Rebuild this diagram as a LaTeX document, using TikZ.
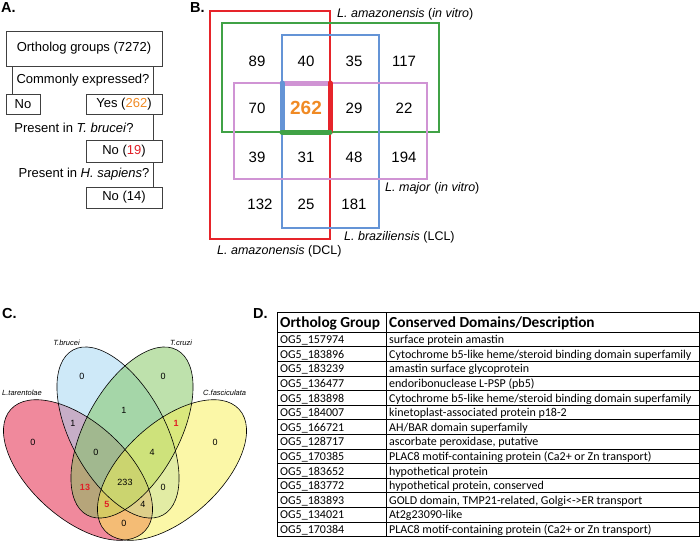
\documentclass[tikz,border=0pt]{standalone}
\usepackage{fontspec}
\setmainfont{Liberation Sans}
\newfontfamily\tablefont{Carlito}
\usetikzlibrary{positioning}
\definecolor{amzred}{RGB}{230,36,42}
\definecolor{vitrogreen}{RGB}{64,162,70}
\definecolor{lclblue}{RGB}{100,148,214}
\definecolor{majorpink}{RGB}{208,148,212}
\definecolor{hitorange}{RGB}{240,138,36}
\definecolor{hitred}{RGB}{225,30,38}
\definecolor{tarred}{RGB}{226,20,58}
\definecolor{brublue}{RGB}{158,211,242}
\definecolor{cruzgreen}{RGB}{125,195,90}
\definecolor{fasyellow}{RGB}{247,240,80}

\begin{document}
\begin{tikzpicture}[x=1pt,y=-1pt,
  panel/.style={anchor=base west,inner sep=0pt,font=\bfseries\fontsize{14.5}{16}\selectfont},
  flowbox/.style={draw=black!75,line width=.7pt,inner sep=0pt,font=\fontsize{13}{15}\selectfont},
  flowtext/.style={inner sep=0pt,font=\fontsize{13}{15}\selectfont},
  cellnum/.style={inner sep=0pt,font=\fontsize{15}{17}\selectfont},
  setlabel/.style={anchor=west,inner sep=0pt,font=\fontsize{12.5}{14}\selectfont},
  vennnum/.style={inner sep=0pt,font=\fontsize{9}{10}\selectfont},
  vennhit/.style={inner sep=0pt,text=hitred,font=\bfseries\fontsize{9}{10}\selectfont},
  vennname/.style={inner sep=0pt,font=\itshape\fontsize{7.5}{9}\selectfont},
  cellhead/.style={anchor=base west,inner sep=0pt,font=\tablefont\bfseries\fontsize{15.3}{17}\selectfont},
  cell/.style={anchor=base west,inner sep=0pt,font=\tablefont\fontsize{12}{14}\selectfont}]
\path[use as bounding box] (0,0) rectangle (700,547);

% A. filter steps
\node[panel] (labA) at (1,12) {A.};
\node[flowbox,minimum width=156pt,minimum height=35pt] (og) at (84,48.5) {Ortholog groups (7272)};
\node[flowbox,minimum width=34pt,minimum height=20pt] (no) at (23,104) {No};
\node[flowbox,minimum width=76pt,minimum height=20pt] (yes) at (124,104) {Yes (\textcolor{hitorange}{262})};
\node[flowbox,minimum width=76pt,minimum height=22pt] (nob) at (124,151) {No (\textcolor{hitred}{19})};
\node[flowbox,minimum width=76pt,minimum height=21pt] (noh) at (124,197.5) {No (14)};
\node[flowtext] (q1) at (83,80) {Commonly expressed?};
\node[flowtext] (q2) at (74,128) {Present in \textit{T. brucei}?};
\node[flowtext] (q3) at (84,174) {Present in \textit{H. sapiens}?};
\draw[black!75,line width=.7pt] ([xshift=7pt]no.north west) -- ([xshift=7pt]og.south west);
\draw[black!75,line width=.7pt] ([xshift=-9pt]yes.north east) -- ([xshift=-9pt]og.south east);
\draw[black!75,line width=.7pt] ([xshift=-9pt]nob.north east) -- ([xshift=-9pt]yes.south east);
\draw[black!75,line width=.7pt] ([xshift=-9pt]noh.north east) -- ([xshift=-9pt]nob.south east);

% B. overlap of the four sets
\node[panel] (labB) at (190,12) {B.};
\draw[amzred,line width=1.8pt] (210,11) rectangle (330,239);
\draw[vitrogreen,line width=1.8pt] (222,23) rectangle (439,132);
\draw[lclblue,line width=1.8pt] (282,35) rectangle (379,228);
\draw[majorpink,line width=1.8pt] (234,83) rectangle (427,179);
\draw[majorpink,line width=5pt,line cap=round] (282,83) -- (330,83);
\draw[amzred,line width=5pt,line cap=round] (330,83) -- (330,132);
\draw[lclblue,line width=5pt,line cap=round] (282,83) -- (282,132);
\draw[vitrogreen,line width=5pt,line cap=round] (282,132) -- (330,132);
\node[cellnum] (n11) at (257,61) {89};
\node[cellnum] (n12) at (306,61) {40};
\node[cellnum] (n13) at (354,61) {35};
\node[cellnum] (n14) at (404,61) {117};
\node[cellnum] (n21) at (257,108) {70};
\node[cellnum,text=hitorange,font=\bfseries\fontsize{19}{21}\selectfont] (n22) at (306,108) {262};
\node[cellnum] (n23) at (354,108) {29};
\node[cellnum] (n24) at (404,108) {22};
\node[cellnum] (n31) at (257,157) {39};
\node[cellnum] (n32) at (306,157) {31};
\node[cellnum] (n33) at (354,157) {48};
\node[cellnum] (n34) at (404,157) {194};
\node[cellnum] (n41) at (260,204) {132};
\node[cellnum] (n42) at (306,204) {25};
\node[cellnum] (n43) at (354,204) {181};
\node[setlabel] (amzvitro) at (337,14) {\textit{L. amazonensis} (\textit{in vitro})};
\node[setlabel] (majvitro) at (385,188) {\textit{L. major} (\textit{in vitro})};
\node[setlabel] (brazlcl) at (344,237) {\textit{L. braziliensis} (LCL)};
\node[setlabel] (amzdcl) at (217,251) {\textit{L. amazonensis} (DCL)};

% C. four-way Venn
\node[panel] (labC) at (2,318) {C.};
\fill[tarred,fill opacity=.5,rotate around={-42:(78,470)}] (78,470) ellipse[x radius=90.5pt,y radius=48pt];
\fill[brublue,fill opacity=.5,rotate around={-61.4:(118,432.5)}] (118,432.5) ellipse[x radius=94pt,y radius=47pt];
\fill[cruzgreen,fill opacity=.5,rotate around={61.4:(132,432.5)}] (132,432.5) ellipse[x radius=94pt,y radius=47pt];
\fill[fasyellow,fill opacity=.5,rotate around={42:(172,470)}] (172,470) ellipse[x radius=90.5pt,y radius=48pt];
\draw[line width=.6pt,rotate around={-42:(78,470)}] (78,470) ellipse[x radius=90.5pt,y radius=48pt];
\draw[line width=.6pt,rotate around={-61.4:(118,432.5)}] (118,432.5) ellipse[x radius=94pt,y radius=47pt];
\draw[line width=.6pt,rotate around={61.4:(132,432.5)}] (132,432.5) ellipse[x radius=94pt,y radius=47pt];
\draw[line width=.6pt,rotate around={42:(172,470)}] (172,470) ellipse[x radius=90.5pt,y radius=48pt];
\node[vennname] (tbr) at (66.5,343) {T.brucei};
\node[vennname] (tcr) at (181,343) {T.cruzi};
\node[vennname] (lta) at (22,393) {L.tarentolae};
\node[vennname,anchor=west] (cfa) at (203,393) {C.fasciculata};
\node[vennnum] (v1) at (33,442) {0};
\node[vennnum] (v2) at (73,423) {1};
\node[vennnum] (v3) at (82,376) {0};
\node[vennnum] (v4) at (124,410) {1};
\node[vennnum] (v5) at (163,376) {0};
\node[vennhit] (v6) at (176,423) {1};
\node[vennnum] (v7) at (215,442) {0};
\node[vennnum] (v8) at (96,452) {0};
\node[vennnum] (v9) at (152,452) {4};
\node[vennhit] (v10) at (85,487) {13};
\node[vennnum] (v11) at (125,482) {233};
\node[vennnum] (v12) at (163,487) {0};
\node[vennhit] (v13) at (107,504) {5};
\node[vennnum] (v14) at (143,504) {4};
\node[vennnum] (v15) at (124,523) {0};

% D. the 14 groups
\node[panel] (labD) at (253,318) {D.};
\draw[line width=.8pt] (277,312) rectangle (699,536.4);
\draw[line width=.8pt] (386,312) -- (386,536.4);
\draw[line width=.6pt] (277,332) -- (699,332);
\draw[line width=.6pt] (277,346.6) -- (699,346.6);
\draw[line width=.6pt] (277,361.2) -- (699,361.2);
\draw[line width=.6pt] (277,375.8) -- (699,375.8);
\draw[line width=.6pt] (277,390.4) -- (699,390.4);
\draw[line width=.6pt] (277,405) -- (699,405);
\draw[line width=.6pt] (277,419.6) -- (699,419.6);
\draw[line width=.6pt] (277,434.2) -- (699,434.2);
\draw[line width=.6pt] (277,448.8) -- (699,448.8);
\draw[line width=.6pt] (277,463.4) -- (699,463.4);
\draw[line width=.6pt] (277,478) -- (699,478);
\draw[line width=.6pt] (277,492.6) -- (699,492.6);
\draw[line width=.6pt] (277,507.2) -- (699,507.2);
\draw[line width=.6pt] (277,521.8) -- (699,521.8);
\node[cellhead] (hog) at (280,327) {Ortholog Group};
\node[cellhead] (hds) at (389,327) {Conserved Domains/Description};
\node[cell] (og1) at (280,343.6) {OG5\_157974};
\node[cell] (ds1) at (389,343.6) {surface protein amastin};
\node[cell] (og2) at (280,358.2) {OG5\_183896};
\node[cell] (ds2) at (389,358.2) {Cytochrome b5-like heme/steroid binding domain superfamily};
\node[cell] (og3) at (280,372.8) {OG5\_183239};
\node[cell] (ds3) at (389,372.8) {amastin surface glycoprotein};
\node[cell] (og4) at (280,387.4) {OG5\_136477};
\node[cell] (ds4) at (389,387.4) {endoribonuclease L-PSP (pb5)};
\node[cell] (og5) at (280,402) {OG5\_183898};
\node[cell] (ds5) at (389,402) {Cytochrome b5-like heme/steroid binding domain superfamily};
\node[cell] (og6) at (280,416.6) {OG5\_184007};
\node[cell] (ds6) at (389,416.6) {kinetoplast-associated protein p18-2};
\node[cell] (og7) at (280,431.2) {OG5\_166721};
\node[cell] (ds7) at (389,431.2) {AH/BAR domain superfamily};
\node[cell] (og8) at (280,445.8) {OG5\_128717};
\node[cell] (ds8) at (389,445.8) {ascorbate peroxidase, putative};
\node[cell] (og9) at (280,460.4) {OG5\_170385};
\node[cell] (ds9) at (389,460.4) {PLAC8 motif-containing protein (Ca2+ or Zn transport)};
\node[cell] (og10) at (280,475) {OG5\_183652};
\node[cell] (ds10) at (389,475) {hypothetical protein};
\node[cell] (og11) at (280,489.6) {OG5\_183772};
\node[cell] (ds11) at (389,489.6) {hypothetical protein, conserved};
\node[cell] (og12) at (280,504.2) {OG5\_183893};
\node[cell] (ds12) at (389,504.2) {GOLD domain, TMP21-related, Golgi<->ER transport};
\node[cell] (og13) at (280,518.8) {OG5\_134021};
\node[cell] (ds13) at (389,518.8) {At2g23090-like};
\node[cell] (og14) at (280,533.4) {OG5\_170384};
\node[cell] (ds14) at (389,533.4) {PLAC8 motif-containing protein (Ca2+ or Zn transport)};
\end{tikzpicture}
\end{document}
